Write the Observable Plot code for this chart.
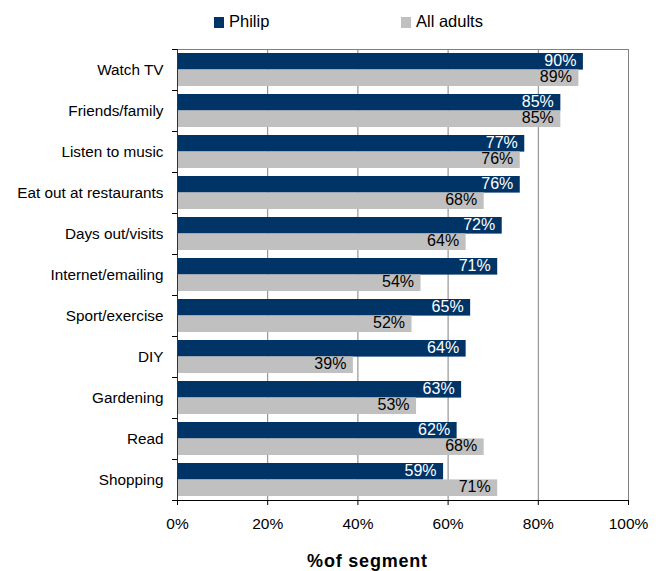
<!DOCTYPE html>
<html>
<head>
<meta charset="utf-8">
<script src="https://cdn.jsdelivr.net/npm/d3@7"></script>
<script src="https://cdn.jsdelivr.net/npm/@observablehq/plot@0.6"></script>
<style>
  html, body { margin: 0; padding: 0; background: #fff; }
  #wrap { position: relative; width: 661px; height: 571px; font-family: "Liberation Sans", Arial, sans-serif; }
  #legend { position: relative; height: 40px; }
  .sw { position: absolute; width: 10px; height: 11px; top: 17px; }
  .lt { position: absolute; top: 12px; font-size: 16.5px; line-height: 19px; color: #000; }
  #plot { position: absolute; left: 0; top: 40px; }
  #xtitle { position: absolute; top: 551px; left: 0; width: 735px; text-align: center; font-size: 18px; font-weight: bold; letter-spacing: 0.8px; color: #000; line-height: 20px; }
</style>
</head>
<body>
<div id="wrap">
  <div id="legend"></div>
  <div id="plot"></div>
  <div id="xtitle">%of segment</div>
</div>
<script>
const categories = ["Watch TV", "Friends/family", "Listen to music", "Eat out at restaurants", "Days out/visits", "Internet/emailing", "Sport/exercise", "DIY", "Gardening", "Read", "Shopping"];
const philip = [90, 85, 77, 76, 72, 71, 65, 64, 63, 62, 59];
const allAdults = [89, 85, 76, 68, 64, 54, 52, 39, 53, 68, 71];
const seriesNames = ["Philip", "All adults"];
const seriesColors = ["#003366", "#C0C0C0"];
const xTicks = [0, 20, 40, 60, 80, 100];

// legend
const legend = document.getElementById("legend");
const legendX = [[214, 229], [401, 416]];
seriesNames.forEach((name, i) => {
  const sw = document.createElement("div");
  sw.className = "sw"; sw.style.left = legendX[i][0] + "px"; sw.style.background = seriesColors[i];
  const t = document.createElement("div");
  t.className = "lt"; t.style.left = legendX[i][1] + "px"; t.textContent = name;
  legend.appendChild(sw); legend.appendChild(t);
});

const width = 661, height = 531;
const mt = 9, mb = 71, ml = 177, mr = 33;
const step = (height - mt - mb) / categories.length; // paddingInner 0.2, paddingOuter 0.1 => range = n*step
const bw = step * 0.8;

const rowsP = categories.map((c, i) => ({cat: c, v: philip[i]}));
const rowsA = categories.map((c, i) => ({cat: c, v: allAdults[i]}));

const chart = Plot.plot({
  width, height,
  marginTop: mt, marginBottom: mb, marginLeft: ml, marginRight: mr,
  style: {fontFamily: "'Liberation Sans', Arial, sans-serif", fontSize: "15px", color: "#000", background: "#fff"},
  x: {domain: [0, 100]},
  y: {domain: categories, paddingInner: 0.2, paddingOuter: 0.1},
  marks: [
    Plot.gridX(xTicks.slice(1, -1), {stroke: "#808080", strokeOpacity: 1}),
    Plot.barX(rowsP, {y: "cat", x: "v", fill: seriesColors[0], insetBottom: bw / 2, insetTop: 0}),
    Plot.barX(rowsA, {y: "cat", x: "v", fill: seriesColors[1], insetTop: bw / 2, insetBottom: 0}),
    Plot.text(rowsP, {y: "cat", x: "v", text: d => d.v + "%", textAnchor: "end", dx: -7, dy: -bw / 4 - 1, fill: "#fff", fontSize: 16}),
    Plot.text(rowsA, {y: "cat", x: "v", text: d => d.v + "%", textAnchor: "end", dx: -7, dy: bw / 4 - 1, fill: "#000", fontSize: 16}),
    Plot.frame({anchor: "top", stroke: "#808080"}),
    Plot.frame({anchor: "right", stroke: "#808080"}),
    Plot.frame({anchor: "left", stroke: "#333"}),
    Plot.frame({anchor: "bottom", stroke: "#000"}),
    Plot.ruleY(categories, {y: d => d, dy: -step / 2, x1: -1.1, x2: 0, stroke: "#000"}),
    Plot.ruleY(categories.slice(-1), {y: d => d, dy: step / 2, x1: -1.1, x2: 0, stroke: "#000"}),
    Plot.axisX({ticks: xTicks, tickFormat: d => d + "%", tickSize: 5, tickPadding: 12, label: null, fontSize: 15.5}),
    Plot.axisY({tickSize: 0, tickPadding: 14, label: null, fontSize: 15.3})
  ]
});
document.getElementById("plot").appendChild(chart);
</script>
</body>
</html>
